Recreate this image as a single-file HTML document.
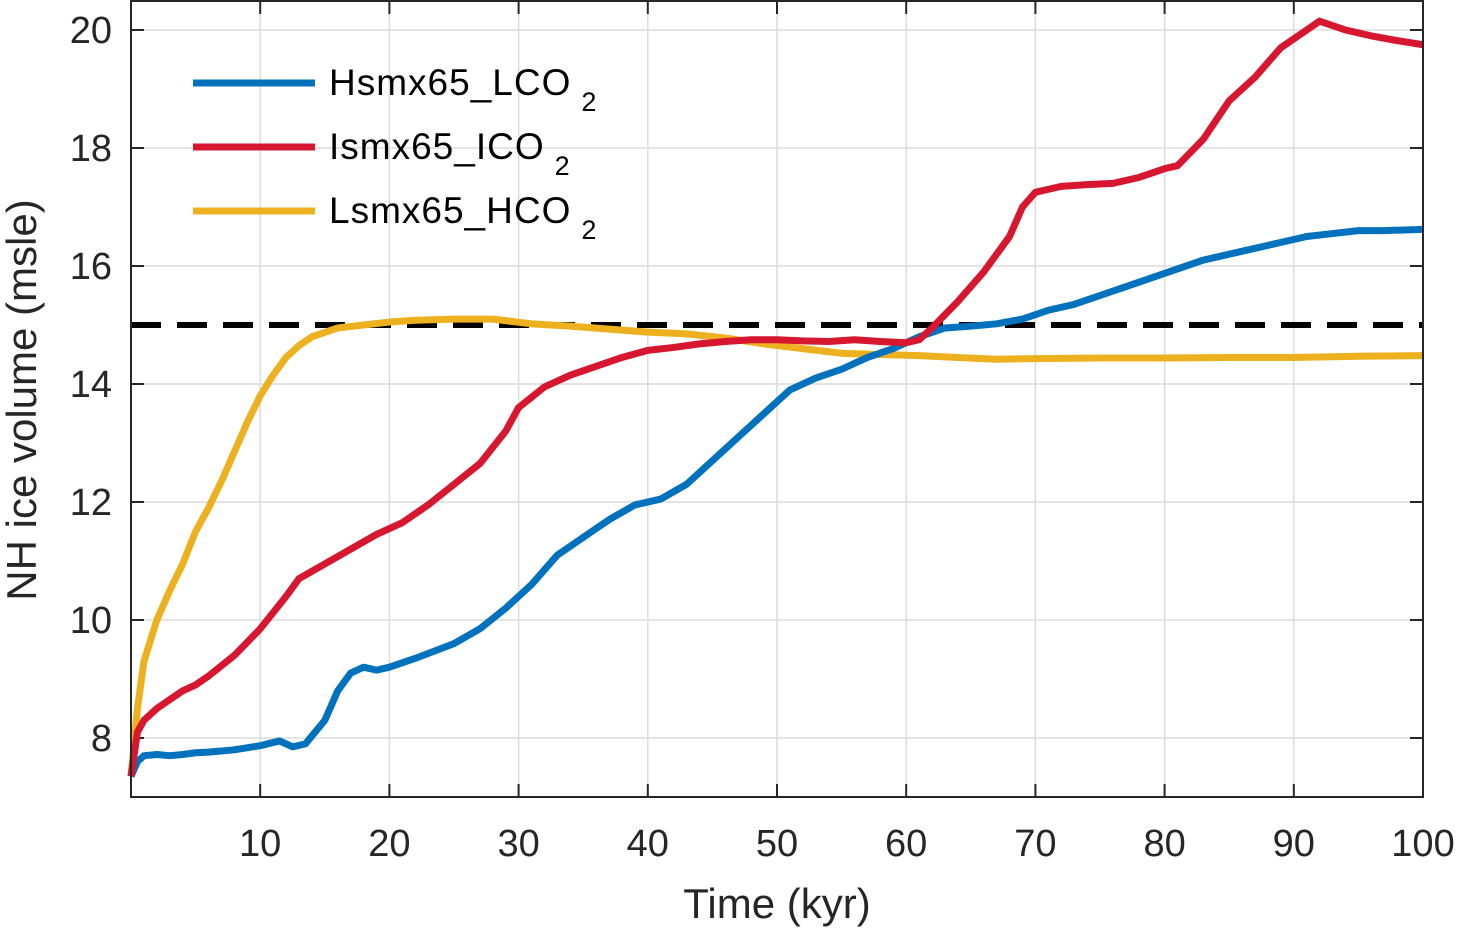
<!DOCTYPE html>
<html><head><meta charset="utf-8"><style>
body{margin:0;background:#fff}
svg{display:block;font-family:"Liberation Sans",sans-serif}
</style></head><body>
<svg id="chart" width="1461" height="928"></svg>
<script>
const blueT=[0,0.5,1,2,3,4,5,6,8,10,11.5,12.5,13.5,15,16,17,18,19,20,22,25,27,29,31,33,35,37,39,41,43,45,47,49,51,53,55,57,59,61,63,65,67,69,71,73,75,77,79,81,83,85,87,89,91,93,95,97,100];
const blueV=[7.35,7.6,7.7,7.72,7.7,7.72,7.75,7.76,7.8,7.87,7.95,7.85,7.9,8.3,8.8,9.1,9.2,9.15,9.2,9.35,9.6,9.85,10.2,10.6,11.1,11.4,11.7,11.95,12.05,12.3,12.7,13.1,13.5,13.9,14.1,14.25,14.45,14.6,14.8,14.95,14.98,15.02,15.1,15.25,15.35,15.5,15.65,15.8,15.95,16.1,16.2,16.3,16.4,16.5,16.55,16.6,16.6,16.62];
const redT=[0,0.5,1,2,3,4,5,6,8,10,12,13,15,17,19,21,23,25,27,29,30,32,34,36,38,40,42,44,46,48,50,52,54,56,58,60,61,62,64,66,68,69,70,72,74,76,78,80,81,83,85,87,89,91,92,94,96,98,100];
const redV=[7.35,8.1,8.3,8.5,8.65,8.8,8.9,9.05,9.4,9.85,10.4,10.7,10.95,11.2,11.45,11.65,11.95,12.3,12.65,13.2,13.6,13.95,14.15,14.3,14.45,14.57,14.62,14.68,14.72,14.75,14.75,14.73,14.72,14.75,14.72,14.7,14.75,14.95,15.4,15.9,16.5,17.0,17.25,17.35,17.38,17.4,17.5,17.65,17.7,18.15,18.8,19.2,19.7,20.0,20.15,20.0,19.9,19.82,19.75];
const yelT=[0,0.5,1,2,3,4,5,6,7,8,9,10,11,12,13,14,16,18,20,22,25,28,31,34,37,40,43,46,49,52,55,58,61,64,67,70,75,80,85,90,95,100];
const yelV=[7.35,8.5,9.3,10.0,10.5,10.95,11.5,11.9,12.35,12.85,13.35,13.8,14.15,14.45,14.65,14.8,14.95,15.0,15.05,15.08,15.1,15.1,15.02,14.98,14.93,14.88,14.85,14.78,14.68,14.6,14.52,14.5,14.48,14.45,14.42,14.43,14.44,14.44,14.45,14.45,14.47,14.48];
const xTicks=[10,20,30,40,50,60,70,80,90,100];
const yTicks=[8,10,12,14,16,18,20];
const threshold=15;
const legendNames=["Hsmx65_LCO","Ismx65_ICO","Lsmx65_HCO"];
const colors=["#0072BD","#D7172F","#EDB120"];

const NS="http://www.w3.org/2000/svg";
const svg=document.getElementById('chart');
const L=131,R=1423,T=1,B=797;
const xMin=0,xMax=100,yMin=7,yMax=20+29/59;
const sx=v=>L+(v-xMin)/(xMax-xMin)*(R-L);
const sy=v=>B-(v-yMin)/(yMax-yMin)*(B-T);
function el(tag,attrs,parent){const e=document.createElementNS(NS,tag);for(const k in attrs)e.setAttribute(k,attrs[k]);(parent||svg).appendChild(e);return e;}

const grid=el('g',{});


xTicks.forEach(t=>{el('line',{x1:sx(t),x2:sx(t),y1:T,y2:B,stroke:'#dcdcdc','stroke-width':1.5},grid);});
yTicks.forEach(t=>{el('line',{x1:L,x2:R,y1:sy(t),y2:sy(t),stroke:'#dcdcdc','stroke-width':1.5},grid);});

const xt=el('g',{});


xTicks.forEach(t=>{
 el('line',{x1:sx(t),x2:sx(t),y1:B,y2:B-13,stroke:'#262626','stroke-width':2},xt);
 el('line',{x1:sx(t),x2:sx(t),y1:T,y2:T+13,stroke:'#262626','stroke-width':2},xt);
 const tx=el('text',{x:sx(t),y:856,'text-anchor':'middle','font-size':38,fill:'#262626'},xt);tx.textContent=t;
});
const yt=el('g',{});


yTicks.forEach(t=>{
 el('line',{x1:L,x2:L+13,y1:sy(t),y2:sy(t),stroke:'#262626','stroke-width':2},yt);
 el('line',{x1:R,x2:R-13,y1:sy(t),y2:sy(t),stroke:'#262626','stroke-width':2},yt);
 const tx=el('text',{x:112,y:sy(t)+13,'text-anchor':'end','font-size':38,fill:'#262626'},yt);tx.textContent=t;
});

const dash=el('line',{x1:L,x2:R,y1:sy(threshold),y2:sy(threshold),stroke:'#000','stroke-width':6,'stroke-dasharray':'30,16'});



function series(T_,V_,c,name){
 const p=el('polyline',{points:T_.map((t,i)=>sx(t)+','+sy(V_[i])).join(' '),fill:'none',stroke:c,'stroke-width':7,'stroke-linejoin':'round'});
 
 
}
series(yelT,yelV,colors[2],'series-lsmx65-hco2');
series(blueT,blueV,colors[0],'series-hsmx65-lco2');
series(redT,redV,colors[1],'series-ismx65-ico2');

const box=el('rect',{x:L,y:T,width:R-L,height:B-T,fill:'none',stroke:'#262626','stroke-width':2});



const lg=el('g',{});


legendNames.forEach((n,i)=>{
 const y=83+i*64;
 const g=el('g',{},lg);
 
 
 el('line',{x1:193,x2:315,y1:y,y2:y,stroke:colors[i],'stroke-width':7},g);
 const tx=el('text',{x:329,y:y+12,'font-size':37,'letter-spacing':1,fill:'#000'},g);
 tx.textContent=n;
 const s=el('tspan',{'font-size':27,dy:16,dx:10},tx);s.textContent='2';
});

const xl=el('text',{x:777,y:918,'text-anchor':'middle','font-size':42,fill:'#262626'});
xl.textContent='Time (kyr)';


const yl=el('text',{x:0,y:0,'text-anchor':'middle','font-size':42,fill:'#262626',transform:'translate(36,400) rotate(-90)'});
yl.textContent='NH ice volume (msle)';


</script>
</body></html>
